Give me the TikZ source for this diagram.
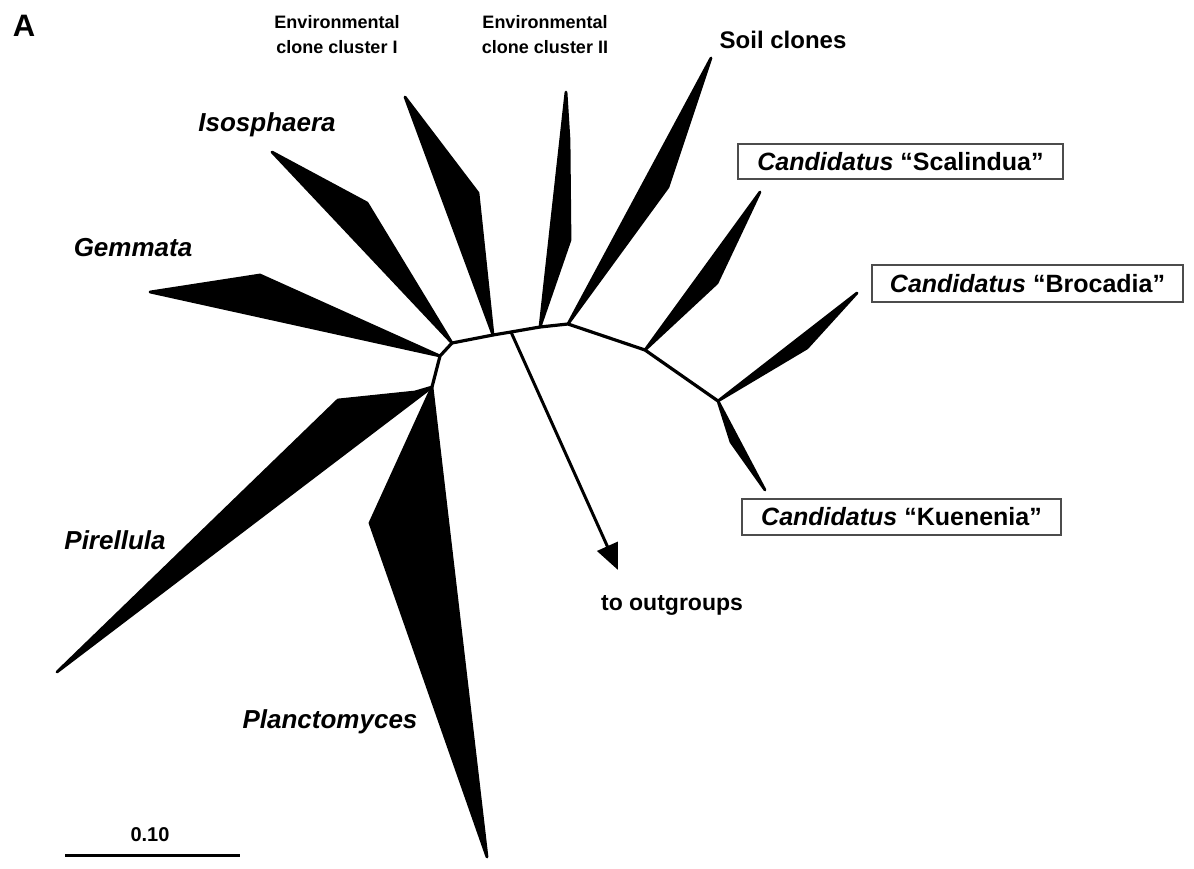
\documentclass[tikz,border=0pt]{standalone}
\usepackage{fontspec}
\setmainfont{Liberation Sans}
\usepackage{tikz}
\usetikzlibrary{arrows.meta,positioning,calc}

\begin{document}
\begin{tikzpicture}[x=1pt,y=-1pt,
  branch/.style={line width=3.2pt, line cap=round, line join=round},
  clade/.style={draw, fill=black, line width=2.8pt, line join=round},
  taxon/.style={font=\fontsize{26}{30}\selectfont\bfseries\itshape, inner sep=0pt},
  envlabel/.style={font=\fontsize{18}{25}\selectfont\bfseries, align=center, inner sep=0pt},
  candbox/.style={draw=black!70, line width=1.3pt, inner sep=0pt, font=\fontsize{25}{28}\selectfont\bfseries}]
\useasboundingbox (0,0) rectangle (1194,869);

% tree junctions
\coordinate (jP) at (432,387);
\coordinate (jG) at (440,356);
\coordinate (jI) at (452,343);
\coordinate (jE1) at (493,335);
\coordinate (jO) at (511,332);
\coordinate (jE2) at (540,327);
\coordinate (jS) at (568,324);
\coordinate (jSc) at (645,350);
\coordinate (jK) at (718,401);
\coordinate (outEnd) at (618,570);

\draw[branch] (jP) -- (jG) -- (jI) -- (jE1) -- (jO) -- (jE2) -- (jS) -- (jSc) -- (jK);

% clades
\draw[clade] (jI) -- (367,203) -- (272,152) -- cycle;
\draw[clade] (jG) -- (260,275) -- (150,292) -- cycle;
\draw[clade] (jP) -- (415,392) -- (338,400) -- (57,672) -- cycle;
\draw[clade] (jP) -- (370,523) -- (487,857) -- cycle;
\draw[clade] (jE1) -- (478,193) -- (405,97) -- cycle;
\draw[clade] (jE2) -- (570,240) -- (569,140) -- (566,92) -- cycle;
\draw[clade] (jS) -- (668,187) -- (711,58) -- cycle;
\draw[clade] (jSc) -- (717,283) -- (760,192) -- cycle;
\draw[clade] (jK) -- (807,348) -- (857,293) -- cycle;
\draw[clade] (jK) -- (731,442) -- (765,490) -- cycle;

\draw[line width=3pt, -{Triangle[length=26pt,width=22pt]}] (jO) -- (outEnd);

% labels
\node[font=\fontsize{31}{34}\selectfont\bfseries, inner sep=0pt] (panel) at (24,26) {A};
\node[envlabel] (envI) at (337,35) {Environmental\\clone cluster I};
\node[envlabel] (envII) at (545,35) {Environmental\\clone cluster II};
\node[font=\fontsize{24}{28}\selectfont\bfseries, inner sep=0pt] (soil) at (783,40) {Soil clones};
\node[taxon] (iso) at (267,125) {Isosphaera};
\node[taxon] (gem) at (133,248) {Gemmata};
\node[taxon] (pir) at (115,540) {Pirellula};
\node[taxon] (plan) at (330,722) {Planctomyces};
\node[candbox, minimum width=325pt, minimum height=35pt] (scal) at (900.5,161.5) {\itshape Candidatus\upshape{} “Scalindua”};
\node[candbox, minimum width=311pt, minimum height=37pt] (broc) at (1027.5,283.5) {\itshape Candidatus\upshape{} “Brocadia”};
\node[candbox, minimum width=319pt, minimum height=36pt] (kuen) at (901.5,517) {\itshape Candidatus\upshape{} “Kuenenia”};
\node[font=\fontsize{23}{26}\selectfont\bfseries, inner sep=0pt] (outg) at (672,605) {to outgroups};

% scale bar
\coordinate (barL) at (65,855);
\coordinate (barR) at (240,855);
\draw[line width=3pt] (barL) -- (barR);
\node[font=\fontsize{20}{24}\selectfont\bfseries, inner sep=0pt] (barlab) at (150,835) {0.10};
\end{tikzpicture}
\end{document}
